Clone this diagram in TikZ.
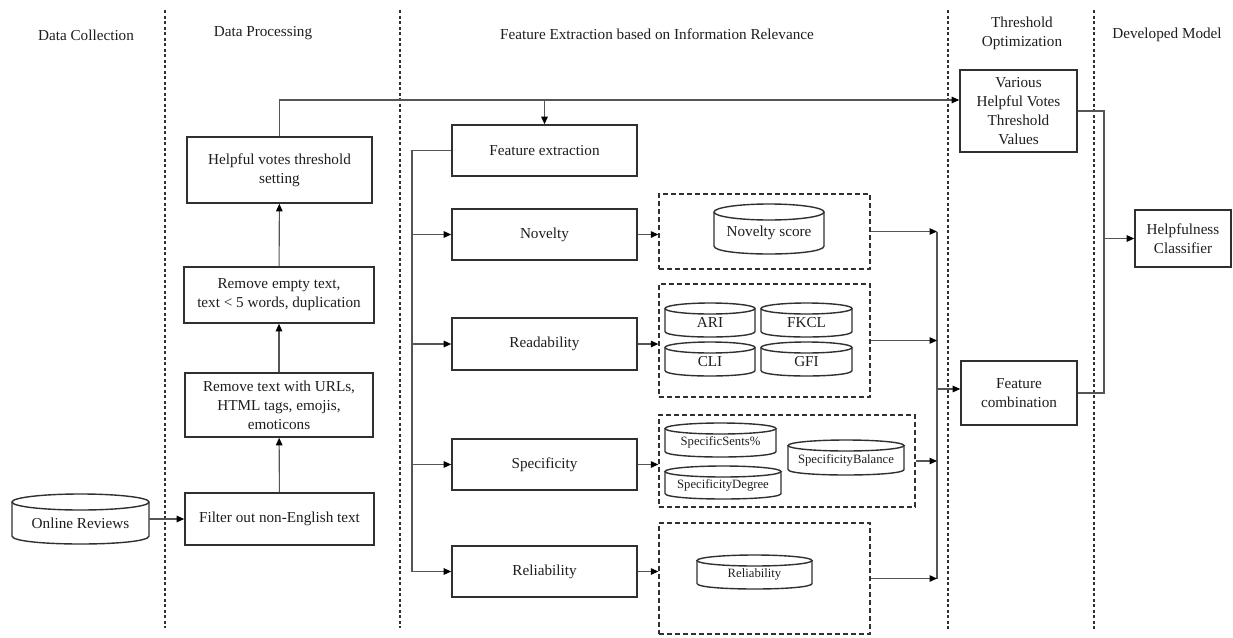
\documentclass[tikz,border=0pt]{standalone}
\usepackage{fontspec}
\setmainfont{Liberation Serif}
\usetikzlibrary{arrows.meta}
\definecolor{ink}{HTML}{1E1E1E}
\definecolor{edge}{HTML}{303030}
\definecolor{wire}{HTML}{555555}
\newcommand{\fsz}{\fontsize{15.2}{18.8}\selectfont}
\newcommand{\fsm}{\fontsize{12.7}{15}\selectfont}
\tikzset{
 box/.style={draw=edge, line width=1.6pt, fill=white, text=ink, align=center, inner sep=2pt, font=\fsz},
 grp/.style={draw=edge, line width=1.3pt, dash pattern=on 5pt off 3pt, inner sep=0pt},
 sepline/.style={draw=edge, line width=1.2pt, dash pattern=on 3pt off 2.5pt},
 conn/.style={draw=wire, line width=1.1pt},
 arr/.style={conn, -{Triangle[length=7.5pt,width=6.5pt,color=black]}},
 cylline/.style={draw=edge, line width=1.4pt},
 cylbody/.style={inner sep=0pt},
 ctext/.style={text=ink, font=\fsz, inner sep=0pt},
 head/.style={text=ink, font=\fsz, align=center},
}
\newcommand{\mycyl}[7]{%
 \draw[cylline] ({(#2+#4)/2},{#3+#6}) ellipse [x radius={(#4-#2)/2}, y radius={#6}];
 \draw[cylline] (#2,{#3+#6}) -- (#2,{#5-#6}) .. controls (#2,{#5+#6/3}) and (#4,{#5+#6/3}) .. (#4,{#5-#6}) -- (#4,{#3+#6});
 \node[cylbody, minimum width={(#4-#2)*1pt}, minimum height={(#5-#3)*1pt}] (#1) at ({(#2+#4)/2},{(#3+#5)/2}) {};
 \node[ctext] (#1t) at ([yshift={-#6*0.5pt}]#1.center) {#7};
}
\begin{document}
\begin{tikzpicture}[x=1pt,y=-1pt]
\useasboundingbox (0,0) rectangle (1233,637);

% column separators
\draw[sepline] (165,10) -- (165,628);
\draw[sepline] (400,10) -- (400,628);
\draw[sepline] (948,10) -- (948,630);
\draw[sepline] (1094,10) -- (1094,630);

% headers
\node[head] (h1) at (86,35) {Data Collection};
\node[head] (h2) at (263,33) {Data Processing};
\node[head] (h3) at (657,34) {Feature Extraction based on Information Relevance};
\node[head] (h4) at (1022,33) {Threshold\\Optimization};
\node[head] (h5) at (1167,35) {Developed Model};

% data processing
\node[box, minimum width=185pt, minimum height=66pt] (help) at (279.5,170) {Helpful votes threshold\\setting};
\node[box, minimum width=190pt, minimum height=56pt] (rem1) at (279,295) {Remove empty text,\\text {<} 5 words, duplication};
\node[box, minimum width=188pt, minimum height=64pt] (rem2) at (279,405) {Remove text with URLs,\\HTML tags, emojis,\\emoticons};
\node[box, minimum width=189pt, minimum height=52pt] (filt) at (279.5,519) {Filter out non-English text};

\mycyl{online}{12}{494}{149}{544}{8}{Online Reviews}

% feature extraction
\node[box, minimum width=185pt, minimum height=51pt] (fe) at (544.5,150.5) {Feature extraction};
\node[box, minimum width=185pt, minimum height=51pt] (nov) at (544.5,234.5) {Novelty};
\node[box, minimum width=185pt, minimum height=52pt] (read) at (544.5,344) {Readability};
\node[box, minimum width=185pt, minimum height=51pt] (spec) at (544.5,464.5) {Specificity};
\node[box, minimum width=185pt, minimum height=51pt] (rel) at (544.5,571.5) {Reliability};

% groups
\node[grp, minimum width=211pt, minimum height=75pt] (novg) at (764.5,231.5) {};
\node[grp, minimum width=211pt, minimum height=113pt] (readg) at (764.5,340.5) {};
\node[grp, minimum width=256pt, minimum height=92pt] (specg) at (787,461) {};
\node[grp, minimum width=211pt, minimum height=111pt] (relg) at (764.5,578.5) {};

\mycyl{novs}{714}{204}{824}{254}{8}{Novelty score}
\mycyl{ari}{665}{303}{755}{337}{5.5}{ARI}
\mycyl{fkcl}{761}{303}{852}{337}{5.5}{FKCL}
\mycyl{cli}{665}{342}{755}{376}{5.5}{CLI}
\mycyl{gfi}{761}{342}{852}{376}{5.5}{GFI}
\mycyl{ssent}{665}{423}{776}{457}{5.5}{\fsm SpecificSents\%}
\mycyl{sdeg}{665}{466}{781}{499}{5.5}{\fsm SpecificityDegree}
\mycyl{sbal}{788}{440}{904}{475}{5.5}{\fsm SpecificityBalance}
\mycyl{relc}{697}{555}{812}{589}{5.5}{\fsm Reliability}

% threshold / model
\node[box, minimum width=117pt, minimum height=82pt] (var) at (1018.5,111) {Various\\Helpful Votes\\Threshold\\Values};
\node[box, minimum width=116pt, minimum height=64pt] (fc) at (1019,393) {Feature\\combination};
\node[box, minimum width=96pt, minimum height=57pt] (hc) at (1183,238.5) {Helpfulness\\Classifier};

% connectors: data processing chain
\draw[arr] (online) -- (filt);
\draw[arr] (filt) -- (rem2);
\draw[arr] (rem2) -- (rem1);
\draw[arr] (rem1) -- (help);

% top route
\coordinate (top) at (279.5,100);
\draw[arr] (help.north) -- (top) -- (var.west |- top);
\draw[arr] (fe.north |- top) -- (fe.north);

% left bus
\coordinate (lb) at (412,150.5);
\draw[conn] (fe.west) -- (lb) -- (lb |- rel.west);
\draw[arr] (lb |- nov.west) -- (nov.west);
\draw[arr] (lb |- read.west) -- (read.west);
\draw[arr] (lb |- spec.west) -- (spec.west);
\draw[arr] (lb |- rel.west) -- (rel.west);

% boxes to groups
\draw[arr] (nov.east) -- (nov.east -| novg.west);
\draw[arr] (read.east) -- (read.east -| readg.west);
\draw[arr] (spec.east) -- (spec.east -| specg.west);
\draw[arr] (rel.east) -- (rel.east -| relg.west);

% right bus
\coordinate (rb) at (937,231.5);
\draw[conn] (rb) -- (rb |- relg.east);
\draw[arr] (novg.east) -- (rb);
\draw[arr] (readg.east) -- (rb |- readg.east);
\draw[arr] (specg.east) -- (rb |- specg.east);
\draw[arr] (relg.east) -- (rb |- relg.east);
\coordinate (fcin) at (937,389);
\draw[arr] (fcin) -- (fcin -| fc.west);

% to classifier
\coordinate (rj) at (1104,111);
\draw[conn] (var.east) -- (rj) -- (rj |- fc.east) -- (fc.east);
\draw[arr] (rj |- hc.west) -- (hc.west);
\end{tikzpicture}
\end{document}
